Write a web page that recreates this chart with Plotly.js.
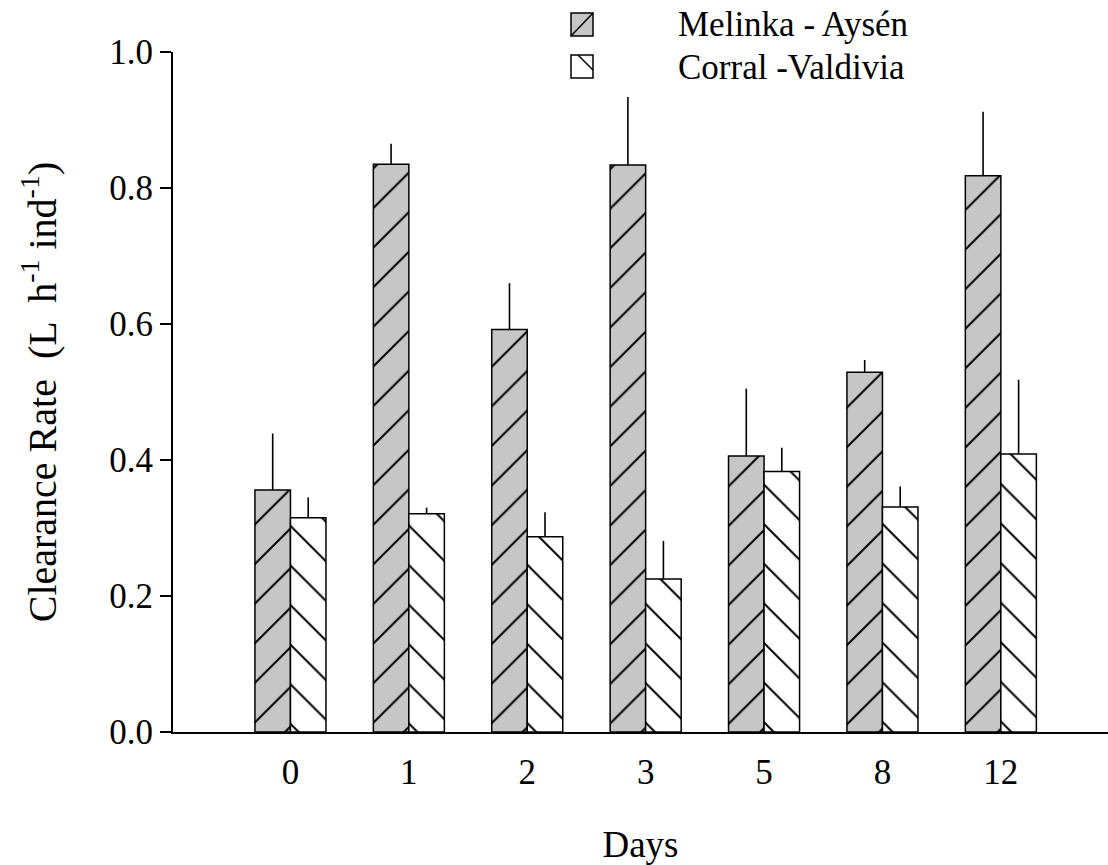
<!DOCTYPE html>
<html>
<head>
<meta charset="utf-8">
<script src="https://cdn.plot.ly/plotly-3.0.1.min.js"></script>
<style>html,body{margin:0;padding:0;background:#fff;}#chart{width:1108px;height:865px;}</style>
</head>
<body>
<div id="chart"></div>
<script>
// Data
const days = ['0', '1', '2', '3', '5', '8', '12'];
const melinka = [0.356, 0.835, 0.592, 0.834, 0.406, 0.529, 0.818];
const melinkaErr = [0.083, 0.030, 0.068, 0.100, 0.099, 0.018, 0.094];
const corral = [0.315, 0.321, 0.287, 0.225, 0.383, 0.331, 0.409];
const corralErr = [0.030, 0.009, 0.036, 0.056, 0.035, 0.030, 0.109];
const seriesNames = ['Melinka - Aysén', 'Corral -Valdivia'];

const FONT = '"Liberation Serif", "Times New Roman", serif';
const zeros = days.map(() => 0);

const traces = [
  {
    type: 'bar', name: seriesNames[0], x: days, y: melinka,
    marker: {
      color: '#c6c6c6',
      line: {color: '#000', width: 1.5},
      pattern: {shape: '/', size: 28, solidity: 0.07, fgcolor: '#000', bgcolor: '#c6c6c6', fillmode: 'replace'}
    },
    error_y: {type: 'data', symmetric: false, array: melinkaErr, arrayminus: zeros, width: 0, thickness: 1.6, color: '#000'},
    showlegend: false, hoverinfo: 'skip'
  },
  {
    type: 'bar', name: seriesNames[1], x: days, y: corral,
    marker: {
      color: '#ffffff',
      line: {color: '#000', width: 1.5},
      pattern: {shape: '\\', size: 28, solidity: 0.07, fgcolor: '#000', bgcolor: '#ffffff', fillmode: 'replace'}
    },
    error_y: {type: 'data', symmetric: false, array: corralErr, arrayminus: zeros, width: 0, thickness: 1.6, color: '#000'},
    showlegend: false, hoverinfo: 'skip'
  }
];

// pixel helpers for the hand-drawn legend (plot area: x 173..1108, y 52..732)
const L = 173, W = 935, B = 732, H = 680;
const px = v => (v - L) / W;
const py = v => (B - v) / H;

const shapes = [
  {type: 'rect', xref: 'paper', yref: 'paper', x0: px(571), x1: px(593), y0: py(36), y1: py(13),
   fillcolor: '#c6c6c6', line: {color: '#000', width: 1.5}},
  {type: 'line', xref: 'paper', yref: 'paper', x0: px(571), x1: px(593), y0: py(36), y1: py(13),
   line: {color: '#000', width: 1.5}},
  {type: 'rect', xref: 'paper', yref: 'paper', x0: px(571), x1: px(593), y0: py(78), y1: py(55),
   fillcolor: '#ffffff', line: {color: '#000', width: 1.5}},
  {type: 'line', xref: 'paper', yref: 'paper', x0: px(578), x1: px(593), y0: py(55), y1: py(70),
   line: {color: '#000', width: 1.5}}
];

const annotations = [
  {xref: 'paper', yref: 'paper', x: px(676), y: py(25), xanchor: 'left', yanchor: 'middle', showarrow: false,
   text: seriesNames[0], font: {family: FONT, size: 35, color: '#000'}},
  {xref: 'paper', yref: 'paper', x: px(676), y: py(67), xanchor: 'left', yanchor: 'middle', showarrow: false,
   text: seriesNames[1], font: {family: FONT, size: 35, color: '#000'}}
];

const layout = {
  width: 1108, height: 865,
  margin: {l: 173, r: 0, t: 52, b: 133, pad: 0},
  paper_bgcolor: '#fff', plot_bgcolor: '#fff',
  font: {family: FONT, color: '#000', size: 35},
  barmode: 'group', bargap: 0.4, bargroupgap: 0,
  showlegend: false,
  xaxis: {
    type: 'category', range: [-0.992, 6.905],
    showline: true, linecolor: '#000', linewidth: 2,
    ticks: '', showgrid: false, zeroline: false,
    tickfont: {family: FONT, size: 35, color: '#000'},
    ticklabelstandoff: 8,
    title: {text: 'Days', font: {family: FONT, size: 37, color: '#000'}, standoff: 44},
    automargin: false
  },
  yaxis: {
    range: [0, 1.0], dtick: 0.2, tick0: 0, tickformat: '.1f',
    showline: true, linecolor: '#000', linewidth: 2,
    ticks: 'outside', ticklen: 11, tickwidth: 2, tickcolor: '#000',
    showgrid: false, zeroline: false,
    tickfont: {family: FONT, size: 35, color: '#000'},
    title: {text: 'Clearance Rate  (L  h<sup>-1</sup> ind<sup>-1</sup>)', font: {family: FONT, size: 40, color: '#000'}, standoff: 40},
    automargin: false
  },
  shapes: shapes,
  annotations: annotations
};

Plotly.newPlot('chart', traces, layout, {displayModeBar: false, staticPlot: true});
</script>
</body>
</html>
